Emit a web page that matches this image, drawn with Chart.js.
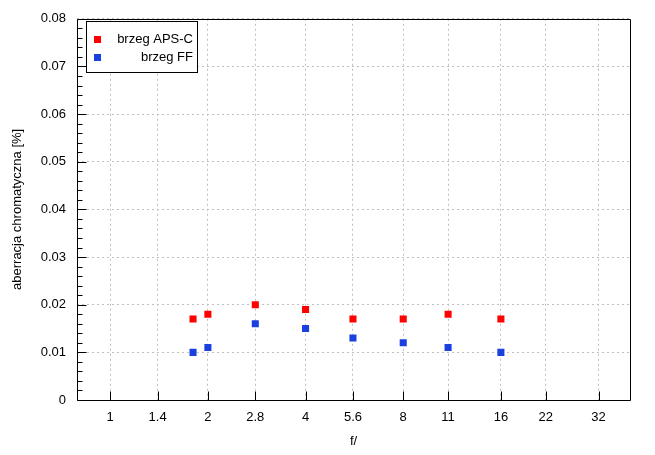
<!DOCTYPE html>
<html>
<head>
<meta charset="utf-8">
<script src="https://cdn.jsdelivr.net/npm/chart.js@4/dist/chart.umd.min.js"></script>
<style>
html,body{margin:0;padding:0;background:#fff;}
canvas{display:block;}
</style>
</head>
<body>
<canvas id="c" width="655" height="455"></canvas>
<script>
// ---- data ----
const fValues = [1.8, 2, 2.8, 4, 5.6, 8, 11, 16];
const apscValues = [0.017, 0.018, 0.020, 0.019, 0.017, 0.017, 0.018, 0.017];
const ffValues = [0.010, 0.011, 0.016, 0.015, 0.013, 0.012, 0.011, 0.010];
const xTickValues = [1, 1.4, 2, 2.8, 4, 5.6, 8, 11, 16, 22, 32];
const xTickLabels = ['1', '1.4', '2', '2.8', '4', '5.6', '8', '11', '16', '22', '32'];
const seriesLabels = ['brzeg APS-C', 'brzeg FF'];
const xTitle = 'f/';
const yTitle = 'aberracja chromatyczna [%]';

const FONT = "'Liberation Sans', Arial, sans-serif";
const RED = '#ff0000';
const BLUE = '#1a41e0';

const toPts = (ys) => fValues.map((x, i) => ({x: x, y: ys[i]}));

const framePlugin = {
  id: 'frame',
  afterDatasetsDraw(chart) {
    const ctx = chart.ctx;
    const a = chart.chartArea;
    const xs = chart.scales.x, ys = chart.scales.y;
    ctx.save();
    ctx.strokeStyle = '#000';
    ctx.lineWidth = 1;
    const L = Math.round(a.left) + 0.5, T = Math.round(a.top) + 0.5;
    const R = Math.round(a.right) + 0.5, B = Math.round(a.bottom) + 0.5;
    ctx.beginPath();
    ctx.rect(L, T, R - L, B - T);
    ctx.stroke();
    // y ticks (major + minor), inward
    ctx.beginPath();
    for (let i = 0; i <= 40; i++) {
      const v = i * 0.002;
      const py = Math.round(ys.getPixelForValue(v)) + 0.5;
      const len = (i % 5 === 0) ? 9 : 5;
      ctx.moveTo(L, py);
      ctx.lineTo(L + len, py);
    }
    // x ticks, inward
    xTickValues.forEach(v => {
      const px = Math.round(xs.getPixelForValue(v)) + 0.5;
      ctx.moveTo(px, B);
      ctx.lineTo(px, B - 9);
    });
    ctx.stroke();
    ctx.restore();
  },
  afterDraw(chart) {
    const ctx = chart.ctx;
    ctx.save();
    // legend box
    ctx.fillStyle = '#fff';
    ctx.fillRect(86, 21, 112, 52);
    ctx.strokeStyle = '#000';
    ctx.lineWidth = 1;
    ctx.strokeRect(86.5, 21.5, 111, 51);
    const rows = [39.5, 57];
    chart.data.datasets.forEach((ds, i) => {
      ctx.fillStyle = ds.backgroundColor;
      ctx.fillRect(94, Math.round(rows[i] - 3.5), 7, 7);
      ctx.fillStyle = '#000';
      ctx.font = '13px ' + FONT;
      ctx.textAlign = 'right';
      ctx.textBaseline = 'middle';
      ctx.fillText(ds.label, 193, rows[i]);
    });
    ctx.restore();
  }
};

new Chart(document.getElementById('c'), {
  type: 'scatter',
  data: {
    datasets: [
      {label: seriesLabels[0], data: toPts(apscValues), backgroundColor: RED, borderColor: RED,
       pointStyle: 'rect', pointRadius: 5, pointBorderWidth: 0, pointHoverRadius: 5},
      {label: seriesLabels[1], data: toPts(ffValues), backgroundColor: BLUE, borderColor: BLUE,
       pointStyle: 'rect', pointRadius: 5, pointBorderWidth: 0, pointHoverRadius: 5}
    ]
  },
  options: {
    responsive: false,
    animation: false,
    devicePixelRatio: 1,
    layout: {padding: {top: 17, right: 25, left: 0, bottom: 0}},
    plugins: {legend: {display: false}, tooltip: {enabled: false}},
    scales: {
      x: {
        type: 'logarithmic',
        min: 0.79,
        max: 40,
        afterBuildTicks(scale) {
          scale.ticks = xTickValues.map(v => ({value: v}));
        },
        afterFit(scale) { scale.height = 55; },
        grid: {color: '#c0c0c0', lineWidth: 1, drawTicks: false},
        border: {display: false, dash: [2, 3]},
        ticks: {
          autoSkip: false, maxRotation: 0, minRotation: 0, padding: 10,
          color: '#000', font: {family: FONT, size: 13},
          callback: (v, i) => xTickLabels[i]
        },
        title: {display: true, text: xTitle, color: '#000', font: {family: FONT, size: 13},
                padding: {top: 0, bottom: 6}}
      },
      y: {
        type: 'linear',
        min: 0,
        max: 0.08,
        afterFit(scale) { scale.width = 77; },
        grid: {color: '#c0c0c0', lineWidth: 1, drawTicks: false},
        border: {display: false, dash: [2, 3]},
        ticks: {
          stepSize: 0.01, padding: 11, color: '#000', font: {family: FONT, size: 13},
          callback: (v) => (Math.abs(v) < 1e-9 ? '0' : v.toFixed(2))
        },
        title: {display: true, text: yTitle, color: '#000', font: {family: FONT, size: 13},
                padding: {top: 10, bottom: 0}}
      }
    }
  },
  plugins: [framePlugin]
});
</script>
</body>
</html>
